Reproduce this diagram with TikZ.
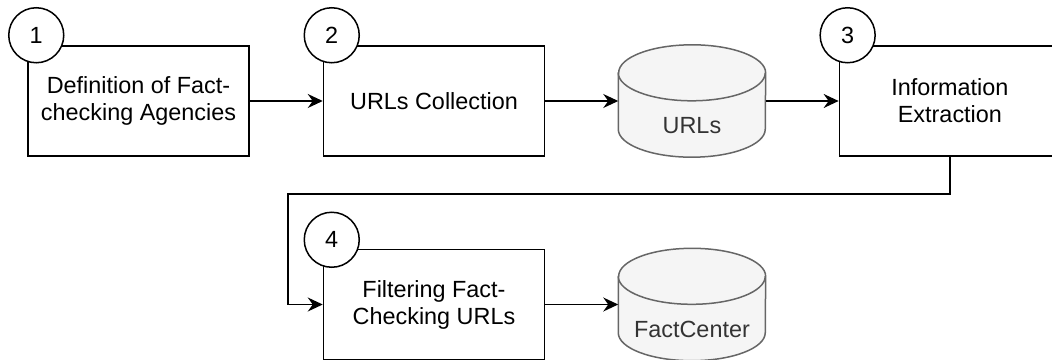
\documentclass[tikz,border=0pt]{standalone}
\usepackage{fontspec}
\setmainfont{Liberation Sans}
\usetikzlibrary{arrows.meta,positioning}

\definecolor{dbfill}{HTML}{F5F5F5}
\definecolor{dbline}{HTML}{666666}
\definecolor{dbtext}{HTML}{333333}

% database drum drawn on an empty named node
\newcommand{\drawdb}[2]{%
  \draw[dbline, fill=dbfill, line width=1.5pt]
    ([yshift=-28pt]#1.north west) -- ([yshift=28pt]#1.south west)
    arc[start angle=180, end angle=360, x radius=73.5pt, y radius=28pt]
    -- ([yshift=-28pt]#1.north east)
    arc[start angle=0, end angle=180, x radius=73.5pt, y radius=28pt] -- cycle;
  \draw[dbline, line width=1.5pt] ([yshift=-28pt]#1.north west)
    arc[start angle=180, end angle=360, x radius=73.5pt, y radius=28pt];
  \node[text=dbtext, font=\fontsize{23.4}{27}\selectfont] at ([yshift=-25pt]#1.center) {#2};
}

\begin{document}
\begin{tikzpicture}[
  node distance=92pt and 73pt,
  box/.style={draw, line width=1.5pt, minimum width=221pt, minimum height=110pt, inner sep=0pt, align=center, font=\fontsize{23.4}{27}\selectfont},
  num/.style={draw, circle, fill=white, line width=1.5pt, minimum size=55pt, inner sep=0pt, font=\fontsize{23.4}{27}\selectfont},
  db/.style={minimum width=147pt, minimum height=112pt, inner sep=0pt},
  arr/.style={-{Stealth[length=15pt, width=14pt, inset=5pt]}, line width=1.5pt}
]
  \clip (0,0) rectangle (1052pt,-359pt);

  \node[box] (agencies) at (138.5pt,-101pt) {Definition of Fact-\\checking Agencies};
  \node[num] (n1) at ([xshift=9pt, yshift=10pt]agencies.north west) {1};

  \node[box, right=of agencies] (collect) {URLs Collection};
  \node[num] (n2) at ([xshift=9pt, yshift=10pt]collect.north west) {2};

  \node[db, right=of collect] (urls) {};
  \drawdb{urls}{URLs}

  \node[box, right=of urls] (extract) {Information\\Extraction};
  \node[num] (n3) at ([xshift=9pt, yshift=10pt]extract.north west) {3};

  \node[box, below=of collect] (filter) {Filtering Fact-\\Checking URLs};
  \node[num] (n4) at ([xshift=9pt, yshift=9pt]filter.north west) {4};

  \node[db, right=of filter] (factcenter) {};
  \drawdb{factcenter}{FactCenter}

  \coordinate (turn) at ([yshift=-37pt]extract.south);
  \coordinate (back) at ([xshift=-35pt]filter.west);

  \draw[arr] (agencies) -- (collect);
  \draw[arr] (collect) -- (urls);
  \draw[arr] (urls) -- (extract);
  \draw[arr] (extract.south) -- (turn) -| (back) -- (filter.west);
  \draw[arr] (filter) -- (factcenter);
\end{tikzpicture}
\end{document}
